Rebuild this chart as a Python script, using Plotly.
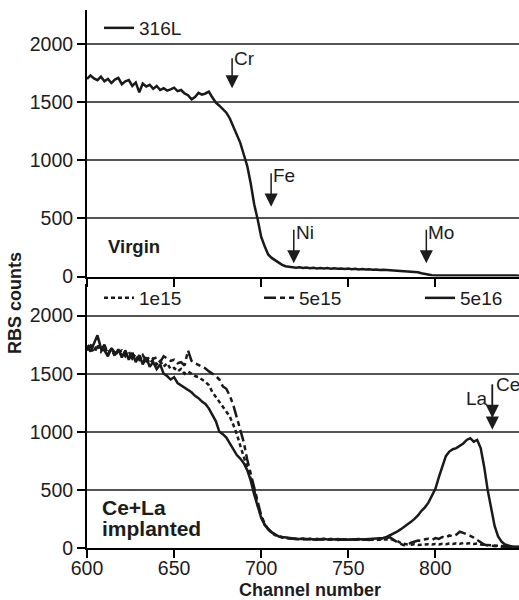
import plotly.graph_objects as go

# ---------------- data ----------------
channels = list(range(600, 850, 2))

virgin_316L = [
    1700, 1730, 1705, 1690, 1720, 1680, 1700, 1665, 1695, 1710,
    1655, 1680, 1690, 1640, 1670, 1585, 1660, 1635, 1650, 1615,
    1640, 1605, 1620, 1600, 1610, 1625, 1595, 1605, 1575, 1560,
    1525, 1545, 1580, 1565, 1575, 1590, 1540, 1495, 1470, 1440,
    1410, 1360, 1295, 1230, 1150, 1050, 950, 800, 620, 490,
    340, 260, 190, 160, 138, 120, 100, 88, 82, 78,
    76, 80, 73, 77, 71, 75, 70, 74, 69, 72,
    67, 71, 66, 69, 64, 68, 63, 66, 61, 64,
    60, 63, 58, 61, 56, 58, 54, 56, 52, 50,
    48, 46, 44, 42, 40, 36, 28, 20, 14, 10,
    8, 10, 7, 9, 8, 10, 7, 9, 8, 10,
    7, 9, 8, 7, 9, 8, 10, 7, 8, 9,
    7, 8, 9, 8, 7,
]

ce_la_1e15 = [
    1720, 1760, 1700, 1750, 1690, 1730, 1680, 1710, 1650, 1700,
    1660, 1690, 1640, 1680, 1620, 1660, 1600, 1640, 1590, 1620,
    1580, 1610, 1560, 1590, 1540, 1550, 1520, 1540, 1500, 1520,
    1500, 1480, 1470, 1450, 1430, 1400, 1340, 1300, 1260, 1220,
    1180, 1130, 1060, 980, 880, 790, 700, 610, 500, 370,
    270, 200, 160, 130, 110, 98, 90, 86, 82, 80,
    78, 75, 80, 74, 78, 72, 77, 74, 78, 73,
    77, 72, 76, 71, 75, 73, 77, 72, 75, 71,
    74, 70, 73, 69, 72, 70, 74, 78, 70, 60,
    45, 35, 30, 28, 32, 26, 30, 28, 33, 30,
    34, 30, 36, 32, 38, 35, 40, 36, 42, 38,
    40, 35, 38, 30, 28, 24, 20, 16, 14, 12,
    10, 9, 8, 9, 8,
]

ce_la_5e15 = [
    1700, 1740, 1680, 1730, 1700, 1750, 1670, 1720, 1680, 1690,
    1700, 1650, 1690, 1630, 1670, 1620, 1660, 1610, 1650, 1630,
    1640, 1600, 1650, 1630, 1610, 1620, 1590, 1600, 1570, 1700,
    1610, 1590, 1575, 1560, 1545, 1520, 1500, 1480, 1450, 1390,
    1370, 1310, 1230, 1130, 1030, 910, 760, 640, 520, 380,
    280, 210, 165, 135, 112, 100, 92, 86, 82, 79,
    76, 79, 74, 78, 72, 76, 71, 75, 73, 77,
    72, 76, 70, 74, 72, 75, 70, 74, 71, 76,
    73, 70, 75, 72, 76, 80, 88, 92, 70, 50,
    35, 25, 30, 45, 55, 65, 60, 75, 80, 70,
    85, 78, 95, 88, 108, 100, 115, 140, 130, 120,
    105, 90, 70, 45, 30, 22, 18, 15, 12, 10,
    10, 9, 8, 9, 8,
]

ce_la_5e16 = [
    1740, 1690, 1760, 1830, 1720, 1700, 1650, 1720, 1660, 1710,
    1640, 1700, 1620, 1680, 1600, 1660, 1580, 1640, 1560, 1600,
    1540, 1580, 1500, 1480, 1450, 1470, 1420, 1400, 1380, 1360,
    1340, 1310, 1290, 1260, 1240, 1200, 1150, 1090, 1000, 980,
    950, 900, 860, 800, 770, 730, 670, 580, 460, 350,
    260, 200, 160, 135, 115, 100, 95, 90, 86, 82,
    80, 78, 82, 76, 80, 74, 78, 75, 79, 74,
    78, 74, 77, 73, 76, 72, 75, 73, 77, 74,
    76, 78, 75, 79, 82, 86, 95, 108, 125, 140,
    160, 180, 200, 225, 250, 280, 320, 350, 390, 450,
    510, 610, 700, 790, 830, 850, 860, 880, 900, 930,
    945, 915, 930, 860, 700, 500, 330, 190, 100, 55,
    30, 18, 12, 10, 8,
]

y_ticks = [0, 500, 1000, 1500, 2000]
x_ticks = [600, 650, 700, 750, 800]

# element edge channels marked by arrows
virgin_edges = ["Cr", "Fe", "Ni", "Mo"]
virgin_edge_channels = [683.3, 705.7, 718.7, 794.8]
implant_edges = ["La", "Ce"]
implant_edge_channel = 832.7

# ---------------- styling ----------------
FONT = "Liberation Sans, Arial, sans-serif"
INK = "#1c1c1c"
LINE = "#1a1a1a"

W, H = 519, 600
ML, MR, MT, MB = 87, 0, 10, 52
PW, PH = W - ML - MR, H - MT - MB


def py(px):  # pixel-from-top -> paper y
    return (H - MB - px) / PH


def pxx(px):  # pixel-from-left -> paper x
    return (px - ML) / PW


fig = go.Figure()

fig.add_trace(go.Scatter(
    x=channels, y=virgin_316L, name="316L", mode="lines", showlegend=True,
    line=dict(color=LINE, width=2.5), xaxis="x2", yaxis="y2", legend="legend"))
fig.add_trace(go.Scatter(
    x=channels, y=ce_la_1e15, name="1e15", mode="lines", showlegend=True,
    line=dict(color=LINE, width=2.5, dash="4px,3px"), legend="legend2"))
fig.add_trace(go.Scatter(
    x=channels, y=ce_la_5e15, name="5e15", mode="lines", showlegend=True,
    line=dict(color=LINE, width=2.5, dash="12px,4px,5px,4px"), legend="legend3"))
fig.add_trace(go.Scatter(
    x=channels, y=ce_la_5e16, name="5e16", mode="lines", showlegend=True,
    line=dict(color=LINE, width=2.5), legend="legend4"))

axis_common = dict(
    showline=True, linecolor="black", linewidth=2,
    ticks="outside", ticklen=8, tickwidth=1.5, tickcolor="black",
    tickfont=dict(family=FONT, size=19.5, color=INK),
)

top_dom = [py(276.5), 1.0]
bot_dom = [0.0, py(283.5)]
top_max = (276.5 - 10) / 58.1 * 500
bot_max = (548 - 283.5) / 58.1 * 500

leg_font = dict(family=FONT, size=19, color=INK)


def leg(xpx, ypx):
    return dict(x=pxx(xpx), xanchor="left", y=py(ypx), yanchor="middle",
                bgcolor="rgba(0,0,0,0)", borderwidth=0, font=leg_font)


fig.update_layout(
    width=W, height=H, showlegend=True,
    margin=dict(l=ML, r=MR, t=MT, b=MB, pad=0),
    paper_bgcolor="white", plot_bgcolor="white",
    font=dict(family=FONT, color=INK),
    xaxis=dict(domain=[0, 1], range=[600, 848], anchor="y", tickvals=x_ticks,
               ticklabelstandoff=-6,
               showgrid=False, zeroline=False, **axis_common),
    xaxis2=dict(domain=[0, 1], range=[600, 848], anchor="y2", tickvals=x_ticks,
                showticklabels=False, matches="x",
                showgrid=False, zeroline=False, **axis_common),
    yaxis=dict(domain=bot_dom, range=[0, bot_max], anchor="x", tickvals=y_ticks,
               showgrid=True, gridcolor="#555555", gridwidth=1.5, zeroline=False,
               **axis_common),
    yaxis2=dict(domain=top_dom, range=[0, top_max], anchor="x2", tickvals=y_ticks,
                showgrid=True, gridcolor="#555555", gridwidth=1.5, zeroline=False,
                **axis_common),
    legend=leg(99, 28),
    legend2=leg(99, 298),
    legend3=leg(259, 298),
    legend4=leg(420, 298),
)

ann = []
lab_font = dict(family=FONT, size=19, color=INK)

# arrows in the virgin panel
tops = [1892, 902, 415, 415]
tips = [1620, 601, 114, 114]
label_y = [1876, 865, 383, 383]
for name, ch, t, tip, ly in zip(virgin_edges, virgin_edge_channels, tops, tips, label_y):
    ann.append(dict(x=ch, y=tip, ax=ch, ay=t, xref="x2", yref="y2", axref="x2", ayref="y2",
                    text="", showarrow=True, arrowhead=2, arrowsize=1.75, arrowwidth=1.5,
                    arrowcolor=INK))
    ann.append(dict(x=ch, y=ly, xref="x2", yref="y2", text=name, showarrow=False,
                    xanchor="left", yanchor="middle", font=lab_font))

# La / Ce arrows in the implanted panel
ann.append(dict(x=implant_edge_channel, y=1018, ax=implant_edge_channel, ay=1420,
                xref="x", yref="y", axref="x", ayref="y", text="", showarrow=True,
                arrowhead=2, arrowsize=1.75, arrowwidth=1.5, arrowcolor=INK))
ann.append(dict(x=implant_edge_channel, y=1119, ax=implant_edge_channel, ay=1420,
                xref="x", yref="y", axref="x", ayref="y", text="", showarrow=True,
                arrowhead=2, arrowsize=1.75, arrowwidth=1.5, arrowcolor=INK))
ann.append(dict(x=implant_edge_channel, y=1285, xref="x", yref="y", text=implant_edges[0],
                showarrow=False, xanchor="right", yanchor="middle", xshift=-2, font=lab_font))
ann.append(dict(x=implant_edge_channel, y=1405, xref="x", yref="y", text=implant_edges[1],
                showarrow=False, xanchor="left", yanchor="middle", xshift=2, font=lab_font))

# panel labels
ann.append(dict(x=611, y=256, xref="x2", yref="y2", text="<b>Virgin</b>", showarrow=False,
                xanchor="left", yanchor="middle", font=dict(family=FONT, size=18.5, color=INK)))
ann.append(dict(x=607.5, y=347, xref="x", yref="y", text="<b>Ce+La</b>", showarrow=False,
                xanchor="left", yanchor="middle", font=dict(family=FONT, size=21, color=INK)))
ann.append(dict(x=607.5, y=170, xref="x", yref="y", text="<b>implanted</b>", showarrow=False,
                xanchor="left", yanchor="middle", font=dict(family=FONT, size=21, color=INK)))

# axis titles
ann.append(dict(x=pxx(15), y=py(303), xref="paper", yref="paper", text="<b>RBS counts</b>",
                textangle=-90, showarrow=False, xanchor="center", yanchor="middle",
                font=dict(family=FONT, size=18, color=INK)))
ann.append(dict(x=pxx(310), y=py(590), xref="paper", yref="paper", text="<b>Channel number</b>",
                showarrow=False, xanchor="center", yanchor="middle",
                font=dict(family=FONT, size=18, color=INK)))

fig.update_layout(annotations=ann)

fig.write_html("out.html")
